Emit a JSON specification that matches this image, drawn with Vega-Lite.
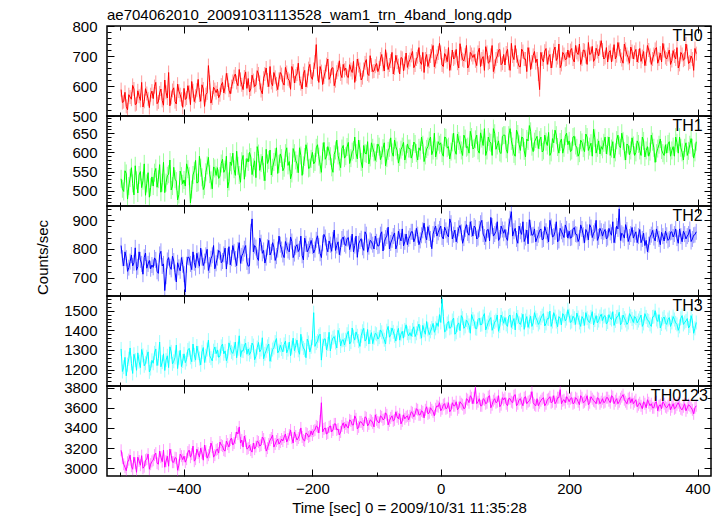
{
"$schema": "https://vega.github.io/schema/vega-lite/v6.json",
"padding": {"left": 35, "top": 8, "right": 5, "bottom": 2},
"title": {"text": "ae704062010_20091031113528_wam1_trn_4band_long.qdp", "anchor": "start", "frame": "group", "font": "Liberation Sans", "fontSize": 15, "fontWeight": "normal", "color": "#000", "offset": -5},
"data": {"values": [
{"t":-498,"a":588,"b":531,"c":812,"d":1305,"e":3178},{"t":-494,"a":548,"b":498,"c":741,"d":1212,"e":3040},{"t":-490,"a":532,"b":545,"c":768,"d":1168,"e":2975},{"t":-486,"a":571,"b":512,"c":735,"d":1255,"e":3085},{"t":-482,"a":556,"b":560,"c":779,"d":1231,"e":3020},{"t":-478,"a":590,"b":489,"c":752,"d":1278,"e":3110},{"t":-474,"a":541,"b":527,"c":726,"d":1196,"e":2960},{"t":-470,"a":566,"b":541,"c":790,"d":1240,"e":3072},{"t":-466,"a":612,"b":508,"c":748,"d":1302,"e":3125},{"t":-462,"a":549,"b":570,"c":771,"d":1219,"e":3015},{"t":-458,"a":575,"b":519,"c":733,"d":1265,"e":3090},{"t":-454,"a":528,"b":483,"c":760,"d":1188,"e":2990},{"t":-450,"a":583,"b":536,"c":744,"d":1247,"e":3068},
{"t":-446,"a":598,"b":547,"c":769,"d":1285,"e":3130},{"t":-442,"a":541,"b":509,"c":722,"d":1220,"e":3050},{"t":-438,"a":577,"b":568,"c":781,"d":1340,"e":3170},{"t":-434,"a":552,"b":521,"c":741,"d":1238,"e":3065},{"t":-430,"a":620,"b":495,"c":655,"d":1195,"e":3010},{"t":-426,"a":560,"b":539,"c":760,"d":1270,"e":3120},{"t":-422,"a":534,"b":580,"c":738,"d":1316,"e":3190},{"t":-418,"a":585,"b":512,"c":775,"d":1229,"e":3060},{"t":-414,"a":548,"b":530,"c":718,"d":1262,"e":3105},{"t":-410,"a":606,"b":476,"c":752,"d":1205,"e":2980},{"t":-406,"a":571,"b":551,"c":724,"d":1298,"e":3140},{"t":-402,"a":529,"b":518,"c":745,"d":1244,"e":3085},
{"t":-398,"a":555,"b":512,"c":650,"d":1235,"e":3060},{"t":-394,"a":601,"b":556,"c":772,"d":1300,"e":3160},{"t":-390,"a":538,"b":468,"c":748,"d":1262,"e":3110},{"t":-386,"a":584,"b":541,"c":790,"d":1330,"e":3220},{"t":-382,"a":566,"b":579,"c":735,"d":1248,"e":3090},{"t":-378,"a":622,"b":522,"c":761,"d":1285,"e":3150},{"t":-374,"a":549,"b":560,"c":803,"d":1224,"e":3200},{"t":-370,"a":590,"b":503,"c":742,"d":1312,"e":3080},{"t":-366,"a":571,"b":548,"c":778,"d":1270,"e":3170},{"t":-362,"a":668,"b":587,"c":725,"d":1350,"e":3130},{"t":-358,"a":543,"b":527,"c":766,"d":1258,"e":3250},{"t":-354,"a":596,"b":562,"c":812,"d":1296,"e":3110},{"t":-350,"a":578,"b":540,"c":750,"d":1281,"e":3180},
{"t":-346,"a":561,"b":532,"c":795,"d":1262,"e":3150},{"t":-342,"a":603,"b":571,"c":752,"d":1318,"e":3230},{"t":-338,"a":577,"b":548,"c":781,"d":1280,"e":3180},{"t":-334,"a":642,"b":590,"c":730,"d":1245,"e":3270},{"t":-330,"a":586,"b":524,"c":808,"d":1336,"e":3210},{"t":-326,"a":598,"b":566,"c":768,"d":1290,"e":3300},{"t":-322,"a":631,"b":556,"c":790,"d":1305,"e":3250},{"t":-318,"a":612,"b":603,"c":742,"d":1260,"e":3360},{"t":-314,"a":655,"b":541,"c":822,"d":1372,"e":3410},{"t":-310,"a":604,"b":577,"c":776,"d":1296,"e":3280},{"t":-306,"a":630,"b":530,"c":801,"d":1321,"e":3320},{"t":-302,"a":592,"b":584,"c":755,"d":1278,"e":3190},
{"t":-298,"a":580,"b":600,"c":742,"d":1276,"e":3230},{"t":-294,"a":636,"b":542,"c":905,"d":1335,"e":3160},{"t":-290,"a":598,"b":578,"c":812,"d":1250,"e":3190},{"t":-286,"a":651,"b":615,"c":770,"d":1312,"e":3270},{"t":-282,"a":612,"b":553,"c":838,"d":1290,"e":3220},{"t":-278,"a":574,"b":590,"c":785,"d":1362,"e":3310},{"t":-274,"a":640,"b":526,"c":751,"d":1280,"e":3250},{"t":-270,"a":620,"b":571,"c":806,"d":1318,"e":3200},{"t":-266,"a":665,"b":606,"c":779,"d":1242,"e":3280},{"t":-262,"a":601,"b":560,"c":822,"d":1302,"e":3330},{"t":-258,"a":629,"b":588,"c":760,"d":1340,"e":3240},{"t":-254,"a":588,"b":545,"c":798,"d":1285,"e":3290},{"t":-250,"a":645,"b":596,"c":815,"d":1324,"e":3260},
{"t":-246,"a":611,"b":552,"c":781,"d":1290,"e":3270},{"t":-242,"a":662,"b":598,"c":826,"d":1345,"e":3340},{"t":-238,"a":624,"b":566,"c":795,"d":1302,"e":3290},{"t":-234,"a":589,"b":531,"c":842,"d":1270,"e":3380},{"t":-230,"a":650,"b":610,"c":770,"d":1360,"e":3250},{"t":-226,"a":633,"b":579,"c":808,"d":1322,"e":3320},{"t":-222,"a":676,"b":547,"c":791,"d":1298,"e":3300},{"t":-218,"a":608,"b":592,"c":845,"d":1380,"e":3400},{"t":-214,"a":641,"b":566,"c":762,"d":1310,"e":3280},{"t":-210,"a":597,"b":620,"c":818,"d":1260,"e":3350},{"t":-206,"a":658,"b":558,"c":799,"d":1338,"e":3310},{"t":-202,"a":630,"b":583,"c":830,"d":1316,"e":3370},
{"t":-198,"a":655,"b":570,"c":786,"d":1490,"e":3370},{"t":-194,"a":738,"b":612,"c":832,"d":1335,"e":3420},{"t":-190,"a":612,"b":589,"c":810,"d":1372,"e":3350},{"t":-186,"a":648,"b":548,"c":770,"d":1248,"e":3650},{"t":-182,"a":630,"b":626,"c":851,"d":1355,"e":3390},{"t":-178,"a":671,"b":590,"c":805,"d":1300,"e":3340},{"t":-174,"a":622,"b":603,"c":828,"d":1390,"e":3410},{"t":-170,"a":659,"b":561,"c":792,"d":1342,"e":3360},{"t":-166,"a":601,"b":595,"c":866,"d":1368,"e":3440},{"t":-162,"a":646,"b":632,"c":812,"d":1310,"e":3380},{"t":-158,"a":684,"b":576,"c":780,"d":1376,"e":3330},{"t":-154,"a":628,"b":610,"c":835,"d":1348,"e":3420},{"t":-150,"a":652,"b":585,"c":818,"d":1325,"e":3400},
{"t":-146,"a":632,"b":614,"c":836,"d":1380,"e":3410},{"t":-142,"a":671,"b":571,"c":798,"d":1330,"e":3480},{"t":-138,"a":645,"b":602,"c":852,"d":1412,"e":3430},{"t":-134,"a":612,"b":640,"c":812,"d":1350,"e":3520},{"t":-130,"a":690,"b":583,"c":771,"d":1372,"e":3390},{"t":-126,"a":655,"b":609,"c":828,"d":1318,"e":3460},{"t":-122,"a":628,"b":560,"c":806,"d":1395,"e":3440},{"t":-118,"a":677,"b":598,"c":860,"d":1345,"e":3510},{"t":-114,"a":640,"b":628,"c":789,"d":1404,"e":3420},{"t":-110,"a":701,"b":587,"c":830,"d":1366,"e":3480},{"t":-106,"a":648,"b":612,"c":815,"d":1332,"e":3450},{"t":-102,"a":666,"b":579,"c":845,"d":1385,"e":3530},
{"t":-98,"a":648,"b":622,"c":810,"d":1355,"e":3460},{"t":-94,"a":690,"b":581,"c":850,"d":1402,"e":3520},{"t":-90,"a":672,"b":611,"c":793,"d":1368,"e":3480},{"t":-86,"a":721,"b":565,"c":838,"d":1330,"e":3550},{"t":-82,"a":655,"b":604,"c":876,"d":1420,"e":3430},{"t":-78,"a":683,"b":638,"c":821,"d":1378,"e":3500},{"t":-74,"a":640,"b":590,"c":845,"d":1392,"e":3470},{"t":-70,"a":702,"b":615,"c":800,"d":1345,"e":3560},{"t":-66,"a":668,"b":572,"c":862,"d":1410,"e":3490},{"t":-62,"a":695,"b":607,"c":828,"d":1380,"e":3440},{"t":-58,"a":651,"b":626,"c":811,"d":1360,"e":3530},{"t":-54,"a":710,"b":595,"c":852,"d":1428,"e":3510},{"t":-50,"a":679,"b":610,"c":836,"d":1372,"e":3480},
{"t":-46,"a":702,"b":585,"c":860,"d":1370,"e":3560},{"t":-42,"a":661,"b":627,"c":825,"d":1418,"e":3510},{"t":-38,"a":690,"b":598,"c":872,"d":1385,"e":3590},{"t":-34,"a":728,"b":612,"c":815,"d":1432,"e":3530},{"t":-30,"a":672,"b":640,"c":848,"d":1360,"e":3570},{"t":-26,"a":645,"b":576,"c":890,"d":1400,"e":3500},{"t":-22,"a":705,"b":609,"c":832,"d":1445,"e":3610},{"t":-18,"a":683,"b":631,"c":856,"d":1378,"e":3550},{"t":-14,"a":716,"b":594,"c":801,"d":1412,"e":3580},{"t":-10,"a":664,"b":650,"c":868,"d":1390,"e":3520},{"t":-6,"a":698,"b":605,"c":845,"d":1438,"e":3620},{"t":-2,"a":742,"b":620,"c":870,"d":1480,"e":3650},
{"t":2,"a":670,"b":598,"c":842,"d":1560,"e":3590},{"t":6,"a":708,"b":640,"c":876,"d":1392,"e":3640},{"t":10,"a":681,"b":611,"c":850,"d":1435,"e":3600},{"t":14,"a":652,"b":583,"c":905,"d":1410,"e":3560},{"t":18,"a":720,"b":626,"c":835,"d":1450,"e":3650},{"t":22,"a":695,"b":605,"c":866,"d":1380,"e":3620},{"t":26,"a":676,"b":648,"c":848,"d":1428,"e":3580},{"t":30,"a":741,"b":620,"c":882,"d":1398,"e":3660},{"t":34,"a":688,"b":592,"c":820,"d":1462,"e":3630},{"t":38,"a":703,"b":636,"c":870,"d":1420,"e":3600},{"t":42,"a":660,"b":615,"c":856,"d":1440,"e":3680},{"t":46,"a":712,"b":655,"c":895,"d":1385,"e":3720},{"t":50,"a":695,"b":609,"c":845,"d":1458,"e":3640},
{"t":54,"a":684,"b":634,"c":874,"d":1410,"e":3800},{"t":58,"a":712,"b":605,"c":840,"d":1455,"e":3660},{"t":62,"a":665,"b":651,"c":890,"d":1428,"e":3620},{"t":66,"a":698,"b":618,"c":852,"d":1470,"e":3690},{"t":70,"a":731,"b":592,"c":826,"d":1402,"e":3640},{"t":74,"a":676,"b":640,"c":868,"d":1440,"e":3710},{"t":78,"a":702,"b":625,"c":910,"d":1465,"e":3600},{"t":82,"a":648,"b":662,"c":845,"d":1418,"e":3670},{"t":86,"a":690,"b":608,"c":862,"d":1450,"e":3650},{"t":90,"a":719,"b":630,"c":830,"d":1395,"e":3720},{"t":94,"a":671,"b":597,"c":880,"d":1478,"e":3630},{"t":98,"a":705,"b":645,"c":855,"d":1436,"e":3680},
{"t":102,"a":710,"b":608,"c":840,"d":1430,"e":3640},{"t":106,"a":676,"b":645,"c":878,"d":1472,"e":3690},{"t":110,"a":742,"b":630,"c":930,"d":1415,"e":3660},{"t":114,"a":688,"b":596,"c":862,"d":1460,"e":3720},{"t":118,"a":701,"b":658,"c":835,"d":1488,"e":3620},{"t":122,"a":665,"b":621,"c":880,"d":1438,"e":3680},{"t":126,"a":723,"b":640,"c":851,"d":1452,"e":3650},{"t":130,"a":690,"b":604,"c":826,"d":1405,"e":3700},{"t":134,"a":648,"b":635,"c":866,"d":1470,"e":3640},{"t":138,"a":705,"b":670,"c":902,"d":1444,"e":3670},{"t":142,"a":680,"b":615,"c":848,"d":1420,"e":3760},{"t":146,"a":715,"b":628,"c":870,"d":1490,"e":3630},{"t":150,"a":690,"b":642,"c":838,"d":1452,"e":3690},
{"t":154,"a":588,"b":632,"c":865,"d":1440,"e":3650},{"t":158,"a":690,"b":601,"c":832,"d":1475,"e":3690},{"t":162,"a":716,"b":645,"c":878,"d":1422,"e":3620},{"t":166,"a":672,"b":618,"c":848,"d":1460,"e":3680},{"t":170,"a":705,"b":592,"c":900,"d":1498,"e":3710},{"t":174,"a":684,"b":636,"c":842,"d":1445,"e":3660},{"t":178,"a":730,"b":658,"c":860,"d":1470,"e":3640},{"t":182,"a":695,"b":614,"c":825,"d":1418,"e":3700},{"t":186,"a":661,"b":627,"c":872,"d":1462,"e":3780},{"t":190,"a":712,"b":598,"c":851,"d":1485,"e":3670},{"t":194,"a":688,"b":642,"c":884,"d":1448,"e":3650},{"t":198,"a":720,"b":620,"c":838,"d":1505,"e":3690},
{"t":202,"a":718,"b":602,"c":838,"d":1440,"e":3690},{"t":206,"a":690,"b":640,"c":870,"d":1472,"e":3640},{"t":210,"a":735,"b":618,"c":852,"d":1430,"e":3700},{"t":214,"a":705,"b":590,"c":826,"d":1465,"e":3660},{"t":218,"a":672,"b":632,"c":884,"d":1420,"e":3720},{"t":222,"a":720,"b":611,"c":848,"d":1458,"e":3650},{"t":226,"a":698,"b":648,"c":868,"d":1490,"e":3680},{"t":230,"a":745,"b":605,"c":832,"d":1445,"e":3630},{"t":234,"a":708,"b":624,"c":875,"d":1468,"e":3710},{"t":238,"a":682,"b":660,"c":855,"d":1428,"e":3670},{"t":242,"a":726,"b":598,"c":900,"d":1475,"e":3640},{"t":246,"a":700,"b":630,"c":842,"d":1450,"e":3690},{"t":250,"a":751,"b":615,"c":862,"d":1482,"e":3660},
{"t":254,"a":690,"b":625,"c":860,"d":1470,"e":3650},{"t":258,"a":728,"b":596,"c":835,"d":1432,"e":3700},{"t":262,"a":712,"b":640,"c":872,"d":1480,"e":3670},{"t":266,"a":680,"b":610,"c":848,"d":1455,"e":3720},{"t":270,"a":738,"b":585,"c":822,"d":1425,"e":3640},{"t":274,"a":701,"b":632,"c":880,"d":1468,"e":3690},{"t":278,"a":722,"b":618,"c":940,"d":1492,"e":3660},{"t":282,"a":688,"b":650,"c":855,"d":1440,"e":3710},{"t":286,"a":740,"b":603,"c":838,"d":1462,"e":3680},{"t":290,"a":705,"b":622,"c":866,"d":1430,"e":3640},{"t":294,"a":676,"b":594,"c":842,"d":1485,"e":3700},{"t":298,"a":715,"b":638,"c":875,"d":1458,"e":3690},
{"t":302,"a":712,"b":592,"c":850,"d":1470,"e":3660},{"t":306,"a":680,"b":630,"c":822,"d":1438,"e":3610},{"t":310,"a":725,"b":605,"c":868,"d":1462,"e":3650},{"t":314,"a":698,"b":640,"c":835,"d":1420,"e":3590},{"t":318,"a":668,"b":588,"c":812,"d":1485,"e":3640},{"t":322,"a":735,"b":615,"c":790,"d":1452,"e":3680},{"t":326,"a":702,"b":602,"c":842,"d":1430,"e":3620},{"t":330,"a":690,"b":628,"c":865,"d":1468,"e":3600},{"t":334,"a":722,"b":574,"c":828,"d":1500,"e":3650},{"t":338,"a":676,"b":610,"c":852,"d":1445,"e":3570},{"t":342,"a":710,"b":635,"c":815,"d":1412,"e":3630},{"t":346,"a":742,"b":598,"c":845,"d":1460,"e":3660},{"t":350,"a":695,"b":620,"c":862,"d":1440,"e":3610},
{"t":354,"a":705,"b":622,"c":830,"d":1455,"e":3620},{"t":358,"a":672,"b":590,"c":858,"d":1420,"e":3580},{"t":362,"a":718,"b":615,"c":842,"d":1470,"e":3640},{"t":366,"a":690,"b":640,"c":870,"d":1438,"e":3600},{"t":370,"a":660,"b":598,"c":820,"d":1400,"e":3650},{"t":374,"a":712,"b":612,"c":845,"d":1462,"e":3590},{"t":378,"a":686,"b":580,"c":862,"d":1430,"e":3610},{"t":382,"a":740,"b":625,"c":835,"d":1448,"e":3570},{"t":386,"a":675,"b":604,"c":852,"d":1412,"e":3630},{"t":390,"a":700,"b":636,"c":826,"d":1475,"e":3600},{"t":394,"a":652,"b":585,"c":848,"d":1385,"e":3540},{"t":398,"a":708,"b":628,"c":860,"d":1440,"e":3620},
{"t":-496,"a":545,"b":505,"c":768,"d":1190,"e":3100},{"t":-492,"a":579,"b":552,"c":790,"d":1262,"e":3010},{"t":-488,"a":521,"b":478,"c":722,"d":1225,"e":3060},{"t":-484,"a":563,"b":533,"c":756,"d":1310,"e":3130},{"t":-480,"a":602,"b":519,"c":741,"d":1180,"e":2990},{"t":-476,"a":538,"b":565,"c":804,"d":1248,"e":3050},{"t":-472,"a":584,"b":494,"c":738,"d":1285,"e":3110},{"t":-468,"a":552,"b":550,"c":762,"d":1210,"e":3030},{"t":-464,"a":530,"b":526,"c":712,"d":1272,"e":3000},{"t":-460,"a":591,"b":488,"c":786,"d":1232,"e":3080},{"t":-456,"a":557,"b":547,"c":748,"d":1290,"e":3140},{"t":-452,"a":571,"b":509,"c":731,"d":1205,"e":3040},
{"t":-448,"a":558,"b":512,"c":736,"d":1232,"e":3080},{"t":-444,"a":612,"b":558,"c":762,"d":1305,"e":3150},{"t":-440,"a":547,"b":530,"c":715,"d":1256,"e":3040},{"t":-436,"a":590,"b":496,"c":792,"d":1214,"e":3110},{"t":-432,"a":536,"b":574,"c":748,"d":1280,"e":3180},{"t":-428,"a":579,"b":521,"c":705,"d":1248,"e":3070},{"t":-424,"a":645,"b":543,"c":770,"d":1210,"e":3020},{"t":-420,"a":562,"b":502,"c":729,"d":1290,"e":3130},{"t":-416,"a":594,"b":561,"c":758,"d":1242,"e":3060},{"t":-412,"a":540,"b":525,"c":685,"d":1325,"e":3100},{"t":-408,"a":583,"b":490,"c":736,"d":1260,"e":3030},{"t":-404,"a":556,"b":538,"c":770,"d":1215,"e":3120},
{"t":-400,"a":592,"b":528,"c":712,"d":1280,"e":3120},{"t":-396,"a":560,"b":570,"c":745,"d":1252,"e":3090},{"t":-392,"a":579,"b":538,"c":770,"d":1308,"e":3180},{"t":-388,"a":615,"b":503,"c":728,"d":1240,"e":3140},{"t":-384,"a":548,"b":552,"c":752,"d":1275,"e":3070},{"t":-380,"a":586,"b":520,"c":785,"d":1320,"e":3190},{"t":-376,"a":570,"b":590,"c":740,"d":1256,"e":3110},{"t":-372,"a":604,"b":535,"c":770,"d":1290,"e":3150},{"t":-368,"a":532,"b":512,"c":756,"d":1236,"e":3230},{"t":-364,"a":577,"b":566,"c":799,"d":1302,"e":3100},{"t":-360,"a":612,"b":543,"c":744,"d":1270,"e":3160},{"t":-356,"a":560,"b":505,"c":778,"d":1244,"e":3210},{"t":-352,"a":588,"b":558,"c":731,"d":1315,"e":3130},
{"t":-348,"a":590,"b":560,"c":770,"d":1300,"e":3190},{"t":-344,"a":571,"b":538,"c":790,"d":1270,"e":3260},{"t":-340,"a":612,"b":582,"c":758,"d":1330,"e":3220},{"t":-336,"a":596,"b":555,"c":803,"d":1295,"e":3170},{"t":-332,"a":620,"b":507,"c":775,"d":1268,"e":3240},{"t":-328,"a":574,"b":575,"c":745,"d":1312,"e":3280},{"t":-324,"a":615,"b":598,"c":812,"d":1282,"e":3230},{"t":-320,"a":640,"b":540,"c":765,"d":1340,"e":3300},{"t":-316,"a":601,"b":565,"c":796,"d":1306,"e":3340},{"t":-312,"a":622,"b":522,"c":750,"d":1266,"e":3250},{"t":-308,"a":588,"b":592,"c":785,"d":1294,"e":3210},{"t":-304,"a":647,"b":560,"c":812,"d":1335,"e":3270},
{"t":-300,"a":625,"b":575,"c":740,"d":1305,"e":3200},{"t":-296,"a":590,"b":588,"c":860,"d":1290,"e":3180},{"t":-292,"a":618,"b":561,"c":790,"d":1322,"e":3250},{"t":-288,"a":603,"b":534,"c":805,"d":1268,"e":3215},{"t":-284,"a":640,"b":597,"c":760,"d":1338,"e":3260},{"t":-280,"a":585,"b":572,"c":822,"d":1302,"e":3230},{"t":-276,"a":626,"b":549,"c":795,"d":1255,"e":3290},{"t":-272,"a":660,"b":608,"c":770,"d":1296,"e":3170},{"t":-268,"a":598,"b":580,"c":830,"d":1330,"e":3240},{"t":-264,"a":612,"b":541,"c":790,"d":1275,"e":3300},{"t":-260,"a":645,"b":575,"c":806,"d":1312,"e":3210},{"t":-256,"a":607,"b":612,"c":775,"d":1358,"e":3270},{"t":-252,"a":622,"b":570,"c":845,"d":1296,"e":3240},
{"t":-248,"a":638,"b":585,"c":798,"d":1305,"e":3290},{"t":-244,"a":603,"b":560,"c":770,"d":1328,"e":3310},{"t":-240,"a":645,"b":612,"c":812,"d":1285,"e":3260},{"t":-236,"a":618,"b":576,"c":790,"d":1340,"e":3330},{"t":-232,"a":665,"b":545,"c":826,"d":1312,"e":3300},{"t":-228,"a":610,"b":598,"c":784,"d":1296,"e":3360},{"t":-224,"a":640,"b":570,"c":815,"d":1350,"e":3280},{"t":-220,"a":625,"b":612,"c":800,"d":1278,"e":3330},{"t":-216,"a":590,"b":540,"c":778,"d":1332,"e":3310},{"t":-212,"a":652,"b":588,"c":838,"d":1300,"e":3270},{"t":-208,"a":618,"b":602,"c":790,"d":1355,"e":3340},{"t":-204,"a":672,"b":560,"c":812,"d":1290,"e":3320},
{"t":-200,"a":622,"b":600,"c":810,"d":1360,"e":3330},{"t":-196,"a":680,"b":575,"c":798,"d":1318,"e":3380},{"t":-192,"a":640,"b":620,"c":846,"d":1345,"e":3410},{"t":-188,"a":665,"b":568,"c":785,"d":1380,"e":3470},{"t":-184,"a":605,"b":602,"c":820,"d":1322,"e":3360},{"t":-180,"a":648,"b":582,"c":840,"d":1356,"e":3400},{"t":-176,"a":690,"b":615,"c":790,"d":1330,"e":3350},{"t":-172,"a":632,"b":590,"c":815,"d":1295,"e":3420},{"t":-168,"a":661,"b":548,"c":832,"d":1362,"e":3380},{"t":-164,"a":618,"b":605,"c":795,"d":1338,"e":3440},{"t":-160,"a":655,"b":592,"c":825,"d":1400,"e":3390},{"t":-156,"a":640,"b":560,"c":805,"d":1320,"e":3360},{"t":-152,"a":672,"b":618,"c":842,"d":1352,"e":3450},
{"t":-148,"a":660,"b":590,"c":812,"d":1352,"e":3440},{"t":-144,"a":628,"b":626,"c":840,"d":1395,"e":3400},{"t":-140,"a":655,"b":585,"c":818,"d":1340,"e":3470},{"t":-136,"a":682,"b":606,"c":790,"d":1368,"e":3430},{"t":-132,"a":640,"b":598,"c":845,"d":1392,"e":3490},{"t":-128,"a":668,"b":632,"c":818,"d":1345,"e":3410},{"t":-124,"a":620,"b":575,"c":836,"d":1372,"e":3460},{"t":-120,"a":655,"b":618,"c":795,"d":1410,"e":3420},{"t":-116,"a":688,"b":596,"c":850,"d":1355,"e":3500},{"t":-112,"a":635,"b":570,"c":808,"d":1330,"e":3440},{"t":-108,"a":670,"b":625,"c":826,"d":1388,"e":3470},{"t":-104,"a":650,"b":600,"c":800,"d":1362,"e":3410},
{"t":-100,"a":675,"b":598,"c":825,"d":1380,"e":3480},{"t":-96,"a":660,"b":615,"c":812,"d":1365,"e":3450},{"t":-92,"a":705,"b":592,"c":860,"d":1390,"e":3510},{"t":-88,"a":650,"b":625,"c":825,"d":1352,"e":3490},{"t":-84,"a":688,"b":585,"c":845,"d":1398,"e":3530},{"t":-80,"a":670,"b":612,"c":800,"d":1365,"e":3470},{"t":-76,"a":712,"b":600,"c":832,"d":1412,"e":3520},{"t":-72,"a":660,"b":632,"c":856,"d":1372,"e":3480},{"t":-68,"a":680,"b":605,"c":815,"d":1388,"e":3510},{"t":-64,"a":640,"b":588,"c":842,"d":1350,"e":3540},{"t":-60,"a":692,"b":615,"c":870,"d":1395,"e":3470},{"t":-56,"a":675,"b":580,"c":825,"d":1402,"e":3490},{"t":-52,"a":662,"b":622,"c":815,"d":1385,"e":3520},
{"t":-48,"a":688,"b":610,"c":845,"d":1388,"e":3520},{"t":-44,"a":715,"b":596,"c":860,"d":1402,"e":3550},{"t":-40,"a":670,"b":622,"c":838,"d":1368,"e":3540},{"t":-36,"a":698,"b":580,"c":850,"d":1410,"e":3580},{"t":-32,"a":680,"b":605,"c":830,"d":1392,"e":3530},{"t":-28,"a":712,"b":620,"c":865,"d":1425,"e":3560},{"t":-24,"a":690,"b":592,"c":848,"d":1380,"e":3580},{"t":-20,"a":665,"b":615,"c":878,"d":1405,"e":3540},{"t":-16,"a":700,"b":640,"c":835,"d":1395,"e":3600},{"t":-12,"a":735,"b":605,"c":852,"d":1435,"e":3560},{"t":-8,"a":682,"b":588,"c":880,"d":1410,"e":3590},{"t":-4,"a":710,"b":628,"c":858,"d":1420,"e":3610},
{"t":0,"a":712,"b":625,"c":880,"d":1440,"e":3570},{"t":4,"a":665,"b":590,"c":835,"d":1470,"e":3630},{"t":8,"a":700,"b":638,"c":865,"d":1398,"e":3590},{"t":12,"a":728,"b":615,"c":842,"d":1445,"e":3650},{"t":16,"a":675,"b":602,"c":890,"d":1415,"e":3580},{"t":20,"a":690,"b":650,"c":850,"d":1462,"e":3620},{"t":24,"a":722,"b":595,"c":825,"d":1390,"e":3660},{"t":28,"a":660,"b":630,"c":872,"d":1438,"e":3600},{"t":32,"a":708,"b":605,"c":858,"d":1475,"e":3640},{"t":36,"a":684,"b":645,"c":838,"d":1410,"e":3590},{"t":40,"a":735,"b":612,"c":885,"d":1452,"e":3690},{"t":44,"a":670,"b":598,"c":848,"d":1425,"e":3650},{"t":48,"a":705,"b":640,"c":870,"d":1480,"e":3700},
{"t":52,"a":705,"b":612,"c":880,"d":1445,"e":3700},{"t":56,"a":668,"b":645,"c":835,"d":1408,"e":3640},{"t":60,"a":726,"b":598,"c":870,"d":1462,"e":3690},{"t":64,"a":690,"b":636,"c":900,"d":1430,"e":3620},{"t":68,"a":652,"b":662,"c":842,"d":1485,"e":3680},{"t":72,"a":712,"b":605,"c":866,"d":1420,"e":3650},{"t":76,"a":680,"b":628,"c":828,"d":1455,"e":3720},{"t":80,"a":735,"b":592,"c":880,"d":1400,"e":3630},{"t":84,"a":665,"b":650,"c":852,"d":1442,"e":3690},{"t":88,"a":700,"b":618,"c":895,"d":1478,"e":3660},{"t":92,"a":722,"b":600,"c":838,"d":1422,"e":3610},{"t":96,"a":676,"b":642,"c":868,"d":1460,"e":3700},
{"t":100,"a":670,"b":645,"c":868,"d":1465,"e":3700},{"t":104,"a":722,"b":598,"c":830,"d":1420,"e":3620},{"t":108,"a":652,"b":662,"c":905,"d":1478,"e":3690},{"t":112,"a":700,"b":615,"c":845,"d":1442,"e":3650},{"t":116,"a":735,"b":590,"c":872,"d":1402,"e":3730},{"t":120,"a":680,"b":648,"c":820,"d":1468,"e":3640},{"t":124,"a":664,"b":605,"c":862,"d":1430,"e":3690},{"t":128,"a":715,"b":638,"c":895,"d":1482,"e":3620},{"t":132,"a":690,"b":588,"c":840,"d":1450,"e":3710},{"t":136,"a":728,"b":630,"c":818,"d":1415,"e":3660},{"t":140,"a":655,"b":655,"c":874,"d":1472,"e":3700},{"t":144,"a":702,"b":602,"c":850,"d":1438,"e":3650},{"t":148,"a":678,"b":635,"c":825,"d":1465,"e":3620},
{"t":152,"a":640,"b":610,"c":850,"d":1430,"e":3620},{"t":156,"a":712,"b":640,"c":870,"d":1462,"e":3670},{"t":160,"a":680,"b":605,"c":835,"d":1485,"e":3700},{"t":164,"a":725,"b":628,"c":862,"d":1435,"e":3640},{"t":168,"a":695,"b":652,"c":825,"d":1458,"e":3690},{"t":172,"a":660,"b":600,"c":878,"d":1420,"e":3650},{"t":176,"a":718,"b":625,"c":845,"d":1490,"e":3720},{"t":180,"a":685,"b":645,"c":895,"d":1445,"e":3660},{"t":184,"a":740,"b":598,"c":830,"d":1470,"e":3700},{"t":188,"a":672,"b":635,"c":862,"d":1428,"e":3640},{"t":192,"a":705,"b":612,"c":840,"d":1475,"e":3680},{"t":196,"a":690,"b":650,"c":870,"d":1460,"e":3710},
{"t":200,"a":695,"b":630,"c":862,"d":1475,"e":3660},{"t":204,"a":725,"b":605,"c":840,"d":1445,"e":3700},{"t":208,"a":680,"b":642,"c":875,"d":1462,"e":3650},{"t":212,"a":712,"b":612,"c":850,"d":1488,"e":3690},{"t":216,"a":740,"b":598,"c":838,"d":1440,"e":3630},{"t":220,"a":690,"b":626,"c":870,"d":1470,"e":3700},{"t":224,"a":718,"b":602,"c":822,"d":1425,"e":3660},{"t":228,"a":672,"b":640,"c":858,"d":1462,"e":3720},{"t":232,"a":705,"b":615,"c":885,"d":1440,"e":3650},{"t":236,"a":732,"b":590,"c":840,"d":1495,"e":3690},{"t":240,"a":690,"b":638,"c":862,"d":1452,"e":3660},{"t":244,"a":715,"b":612,"c":830,"d":1438,"e":3700},{"t":248,"a":728,"b":596,"c":872,"d":1470,"e":3640},
{"t":252,"a":720,"b":608,"c":845,"d":1450,"e":3690},{"t":256,"a":695,"b":640,"c":868,"d":1475,"e":3660},{"t":260,"a":680,"b":618,"c":840,"d":1442,"e":3700},{"t":264,"a":718,"b":592,"c":858,"d":1462,"e":3650},{"t":268,"a":705,"b":628,"c":895,"d":1495,"e":3710},{"t":272,"a":690,"b":600,"c":848,"d":1448,"e":3670},{"t":276,"a":745,"b":645,"c":870,"d":1470,"e":3640},{"t":280,"a":700,"b":612,"c":830,"d":1428,"e":3690},{"t":284,"a":676,"b":630,"c":850,"d":1478,"e":3730},{"t":288,"a":722,"b":580,"c":885,"d":1450,"e":3660},{"t":292,"a":695,"b":618,"c":826,"d":1440,"e":3690},{"t":296,"a":730,"b":605,"c":852,"d":1472,"e":3650},
{"t":300,"a":690,"b":618,"c":838,"d":1440,"e":3640},{"t":304,"a":722,"b":600,"c":860,"d":1462,"e":3680},{"t":308,"a":700,"b":622,"c":845,"d":1450,"e":3630},{"t":312,"a":682,"b":592,"c":822,"d":1478,"e":3620},{"t":316,"a":715,"b":630,"c":855,"d":1435,"e":3660},{"t":320,"a":690,"b":605,"c":830,"d":1468,"e":3600},{"t":324,"a":720,"b":590,"c":815,"d":1448,"e":3650},{"t":328,"a":672,"b":645,"c":850,"d":1420,"e":3640},{"t":332,"a":705,"b":612,"c":840,"d":1470,"e":3600},{"t":336,"a":728,"b":598,"c":870,"d":1455,"e":3660},{"t":340,"a":690,"b":620,"c":835,"d":1480,"e":3620},{"t":344,"a":680,"b":606,"c":858,"d":1432,"e":3590},{"t":348,"a":718,"b":592,"c":828,"d":1468,"e":3640},
{"t":352,"a":690,"b":598,"c":848,"d":1430,"e":3600},{"t":356,"a":720,"b":628,"c":835,"d":1465,"e":3640},{"t":360,"a":685,"b":605,"c":860,"d":1440,"e":3610},{"t":364,"a":700,"b":590,"c":852,"d":1455,"e":3590},{"t":368,"a":728,"b":625,"c":838,"d":1430,"e":3630},{"t":372,"a":672,"b":640,"c":870,"d":1420,"e":3620},{"t":376,"a":705,"b":600,"c":825,"d":1475,"e":3580},{"t":380,"a":690,"b":612,"c":852,"d":1440,"e":3640},{"t":384,"a":715,"b":592,"c":845,"d":1460,"e":3600},{"t":388,"a":680,"b":620,"c":868,"d":1422,"e":3620},{"t":392,"a":690,"b":612,"c":835,"d":1448,"e":3580},{"t":396,"a":725,"b":600,"c":850,"d":1410,"e":3600}
]},
"spacing": 0,
"bounds": "flush",
"vconcat": [
{"width": 604, "height": 90,
 "layer": [
  {"mark": {"type": "rule", "color": "#ff0000", "opacity": 0.4, "strokeWidth": 1, "yOffset": -7, "y2Offset": 7, "clip": true},
   "encoding": {"x": {"field": "t", "type": "quantitative", "axis": null}, "y": {"field": "a", "type": "quantitative", "axis": null}, "y2": {"field": "a"}}},
  {"mark": {"type": "line", "color": "#ff0000", "strokeWidth": 1, "clip": true},
   "encoding": {
    "x": {"field": "t", "type": "quantitative", "scale": {"domain": [-520, 421], "nice": false, "zero": false},
          "axis": {"orient": "bottom", "title": null, "labels": false, "values": [-400,-200,0,200,400], "tickSize": -7}},
    "y": {"field": "a", "type": "quantitative", "scale": {"domain": [500, 800], "nice": false, "zero": false},
          "axis": {"orient": "left", "title": null, "values": [500,600,700,800], "format": "d", "tickSize": -7, "labelPadding": 17}}
   }},
  {"data": {"values": [{"label": "TH0"}]},
   "mark": {"type": "text", "align": "right", "baseline": "middle", "dy": 10, "font": "Liberation Sans", "fontSize": 16, "color": "#000"},
   "encoding": {
    "x": {"datum": 408, "type": "quantitative", "axis": {"orient": "top", "title": null, "labels": false, "values": [-400,-200,0,200,400], "tickSize": -7}},
    "y": {"datum": 800, "type": "quantitative", "axis": {"orient": "right", "title": null, "labels": false, "values": [500,600,700,800], "tickSize": -7}},
    "text": {"field": "label"}
   }},
  {"data": {"values": []},
   "mark": {"type": "text"},
   "encoding": {
    "x": {"datum": 0, "type": "quantitative", "axis": {"orient": "bottom", "title": null, "labels": false, "values": [-500,-300,-100,100,300], "tickSize": -4}},
    "y": {"datum": 600, "type": "quantitative", "axis": {"orient": "left", "title": null, "labels": false, "values": [520,540,560,580,620,640,660,680,720,740,760,780], "tickSize": -4}},
    "text": {"value": ""}
   }},
  {"data": {"values": []},
   "mark": {"type": "text"},
   "encoding": {
    "x": {"datum": 0, "type": "quantitative", "axis": {"orient": "top", "title": null, "labels": false, "values": [-500,-300,-100,100,300], "tickSize": -4}},
    "y": {"datum": 600, "type": "quantitative", "axis": {"orient": "right", "title": null, "labels": false, "values": [520,540,560,580,620,640,660,680,720,740,760,780], "tickSize": -4}},
    "text": {"value": ""}
   }}
 ],
 "resolve": {"axis": {"x": "independent", "y": "independent"}}
},
{"width": 604, "height": 90,
 "layer": [
  {"mark": {"type": "rule", "color": "#00ff00", "opacity": 0.4, "strokeWidth": 1, "yOffset": -9, "y2Offset": 9, "clip": true},
   "encoding": {"x": {"field": "t", "type": "quantitative", "axis": null}, "y": {"field": "b", "type": "quantitative", "axis": null}, "y2": {"field": "b"}}},
  {"mark": {"type": "line", "color": "#00ff00", "strokeWidth": 1, "clip": true},
   "encoding": {
    "x": {"field": "t", "type": "quantitative", "scale": {"domain": [-520, 421], "nice": false, "zero": false},
          "axis": {"orient": "bottom", "title": null, "labels": false, "values": [-400,-200,0,200,400], "tickSize": -7}},
    "y": {"field": "b", "type": "quantitative", "scale": {"domain": [460, 695], "nice": false, "zero": false},
          "axis": {"orient": "left", "title": null, "values": [500,550,600,650], "format": "d", "tickSize": -7, "labelPadding": 17}}
   }},
  {"data": {"values": [{"label": "TH1"}]},
   "mark": {"type": "text", "align": "right", "baseline": "middle", "dy": 10, "font": "Liberation Sans", "fontSize": 16, "color": "#000"},
   "encoding": {
    "x": {"datum": 408, "type": "quantitative", "axis": {"orient": "top", "title": null, "labels": false, "values": [-400,-200,0,200,400], "tickSize": -7}},
    "y": {"datum": 695, "type": "quantitative", "axis": {"orient": "right", "title": null, "labels": false, "values": [500,550,600,650], "tickSize": -7}},
    "text": {"field": "label"}
   }},
  {"data": {"values": []},
   "mark": {"type": "text"},
   "encoding": {
    "x": {"datum": 0, "type": "quantitative", "axis": {"orient": "bottom", "title": null, "labels": false, "values": [-500,-300,-100,100,300], "tickSize": -4}},
    "y": {"datum": 600, "type": "quantitative", "axis": {"orient": "left", "title": null, "labels": false, "values": [470,480,490,510,520,530,540,560,570,580,590,610,620,630,640,660,670,680,690], "tickSize": -4}},
    "text": {"value": ""}
   }},
  {"data": {"values": []},
   "mark": {"type": "text"},
   "encoding": {
    "x": {"datum": 0, "type": "quantitative", "axis": {"orient": "top", "title": null, "labels": false, "values": [-500,-300,-100,100,300], "tickSize": -4}},
    "y": {"datum": 600, "type": "quantitative", "axis": {"orient": "right", "title": null, "labels": false, "values": [470,480,490,510,520,530,540,560,570,580,590,610,620,630,640,660,670,680,690], "tickSize": -4}},
    "text": {"value": ""}
   }}
 ],
 "resolve": {"axis": {"x": "independent", "y": "independent"}}
},
{"width": 604, "height": 90,
 "layer": [
  {"mark": {"type": "rule", "color": "#0000ff", "opacity": 0.4, "strokeWidth": 1, "yOffset": -8, "y2Offset": 8, "clip": true},
   "encoding": {"x": {"field": "t", "type": "quantitative", "axis": null}, "y": {"field": "c", "type": "quantitative", "axis": null}, "y2": {"field": "c"}}},
  {"mark": {"type": "line", "color": "#0000ff", "strokeWidth": 1, "clip": true},
   "encoding": {
    "x": {"field": "t", "type": "quantitative", "scale": {"domain": [-520, 421], "nice": false, "zero": false},
          "axis": {"orient": "bottom", "title": null, "labels": false, "values": [-400,-200,0,200,400], "tickSize": -7}},
    "y": {"field": "c", "type": "quantitative", "scale": {"domain": [636, 950], "nice": false, "zero": false},
          "axis": {"orient": "left", "title": "Counts/sec", "titlePadding": 21, "titleY": 51, "values": [700,800,900], "format": "d", "tickSize": -7, "labelPadding": 17}}
   }},
  {"data": {"values": [{"label": "TH2"}]},
   "mark": {"type": "text", "align": "right", "baseline": "middle", "dy": 10, "font": "Liberation Sans", "fontSize": 16, "color": "#000"},
   "encoding": {
    "x": {"datum": 408, "type": "quantitative", "axis": {"orient": "top", "title": null, "labels": false, "values": [-400,-200,0,200,400], "tickSize": -7}},
    "y": {"datum": 950, "type": "quantitative", "axis": {"orient": "right", "title": null, "labels": false, "values": [700,800,900], "tickSize": -7}},
    "text": {"field": "label"}
   }},
  {"data": {"values": []},
   "mark": {"type": "text"},
   "encoding": {
    "x": {"datum": 0, "type": "quantitative", "axis": {"orient": "bottom", "title": null, "labels": false, "values": [-500,-300,-100,100,300], "tickSize": -4}},
    "y": {"datum": 800, "type": "quantitative", "axis": {"orient": "left", "title": null, "labels": false, "values": [640,660,680,720,740,760,780,820,840,860,880,920,940], "tickSize": -4}},
    "text": {"value": ""}
   }},
  {"data": {"values": []},
   "mark": {"type": "text"},
   "encoding": {
    "x": {"datum": 0, "type": "quantitative", "axis": {"orient": "top", "title": null, "labels": false, "values": [-500,-300,-100,100,300], "tickSize": -4}},
    "y": {"datum": 800, "type": "quantitative", "axis": {"orient": "right", "title": null, "labels": false, "values": [640,660,680,720,740,760,780,820,840,860,880,920,940], "tickSize": -4}},
    "text": {"value": ""}
   }}
 ],
 "resolve": {"axis": {"x": "independent", "y": "independent"}}
},
{"width": 604, "height": 90,
 "layer": [
  {"mark": {"type": "rule", "color": "#00ffff", "opacity": 0.4, "strokeWidth": 1, "yOffset": -7, "y2Offset": 7, "clip": true},
   "encoding": {"x": {"field": "t", "type": "quantitative", "axis": null}, "y": {"field": "d", "type": "quantitative", "axis": null}, "y2": {"field": "d"}}},
  {"mark": {"type": "line", "color": "#00ffff", "strokeWidth": 1, "clip": true},
   "encoding": {
    "x": {"field": "t", "type": "quantitative", "scale": {"domain": [-520, 421], "nice": false, "zero": false},
          "axis": {"orient": "bottom", "title": null, "labels": false, "values": [-400,-200,0,200,400], "tickSize": -7}},
    "y": {"field": "d", "type": "quantitative", "scale": {"domain": [1116, 1575], "nice": false, "zero": false},
          "axis": {"orient": "left", "title": null, "values": [1200,1300,1400,1500], "format": "d", "tickSize": -7, "labelPadding": 17}}
   }},
  {"data": {"values": [{"label": "TH3"}]},
   "mark": {"type": "text", "align": "right", "baseline": "middle", "dy": 10, "font": "Liberation Sans", "fontSize": 16, "color": "#000"},
   "encoding": {
    "x": {"datum": 408, "type": "quantitative", "axis": {"orient": "top", "title": null, "labels": false, "values": [-400,-200,0,200,400], "tickSize": -7}},
    "y": {"datum": 1575, "type": "quantitative", "axis": {"orient": "right", "title": null, "labels": false, "values": [1200,1300,1400,1500], "tickSize": -7}},
    "text": {"field": "label"}
   }},
  {"data": {"values": []},
   "mark": {"type": "text"},
   "encoding": {
    "x": {"datum": 0, "type": "quantitative", "axis": {"orient": "bottom", "title": null, "labels": false, "values": [-500,-300,-100,100,300], "tickSize": -4}},
    "y": {"datum": 1300, "type": "quantitative", "axis": {"orient": "left", "title": null, "labels": false, "values": [1120,1140,1160,1180,1220,1240,1260,1280,1320,1340,1360,1380,1420,1440,1460,1480,1520,1540,1560], "tickSize": -4}},
    "text": {"value": ""}
   }},
  {"data": {"values": []},
   "mark": {"type": "text"},
   "encoding": {
    "x": {"datum": 0, "type": "quantitative", "axis": {"orient": "top", "title": null, "labels": false, "values": [-500,-300,-100,100,300], "tickSize": -4}},
    "y": {"datum": 1300, "type": "quantitative", "axis": {"orient": "right", "title": null, "labels": false, "values": [1120,1140,1160,1180,1220,1240,1260,1280,1320,1340,1360,1380,1420,1440,1460,1480,1520,1540,1560], "tickSize": -4}},
    "text": {"value": ""}
   }}
 ],
 "resolve": {"axis": {"x": "independent", "y": "independent"}}
},
{"width": 604, "height": 90,
 "layer": [
  {"mark": {"type": "rule", "color": "#ff00ff", "opacity": 0.4, "strokeWidth": 1, "yOffset": -6, "y2Offset": 6, "clip": true},
   "encoding": {"x": {"field": "t", "type": "quantitative", "axis": null}, "y": {"field": "e", "type": "quantitative", "axis": null}, "y2": {"field": "e"}}},
  {"mark": {"type": "line", "color": "#ff00ff", "strokeWidth": 1, "clip": true},
   "encoding": {
    "x": {"field": "t", "type": "quantitative", "scale": {"domain": [-520, 421], "nice": false, "zero": false},
          "axis": {"orient": "bottom", "title": "Time [sec] 0 = 2009/10/31 11:35:28", "titlePadding": 4, "values": [-400,-200,0,200,400], "format": "d", "tickSize": -7, "labelPadding": 12}},
    "y": {"field": "e", "type": "quantitative", "scale": {"domain": [2923, 3816], "nice": false, "zero": false},
          "axis": {"orient": "left", "title": null, "values": [3000,3200,3400,3600,3800], "format": "d", "tickSize": -7, "labelPadding": 17}}
   }},
  {"data": {"values": [{"label": "TH0123"}]},
   "mark": {"type": "text", "align": "right", "baseline": "middle", "dy": 10, "font": "Liberation Sans", "fontSize": 16, "color": "#000"},
   "encoding": {
    "x": {"datum": 416, "type": "quantitative", "axis": {"orient": "top", "title": null, "labels": false, "values": [-400,-200,0,200,400], "tickSize": -7}},
    "y": {"datum": 3816, "type": "quantitative", "axis": {"orient": "right", "title": null, "labels": false, "values": [3000,3200,3400,3600,3800], "tickSize": -7}},
    "text": {"field": "label"}
   }},
  {"data": {"values": []},
   "mark": {"type": "text"},
   "encoding": {
    "x": {"datum": 0, "type": "quantitative", "axis": {"orient": "bottom", "title": null, "labels": false, "values": [-500,-300,-100,100,300], "tickSize": -4}},
    "y": {"datum": 3400, "type": "quantitative", "axis": {"orient": "left", "title": null, "labels": false, "values": [3100,3300,3500,3700], "tickSize": -4}},
    "text": {"value": ""}
   }},
  {"data": {"values": []},
   "mark": {"type": "text"},
   "encoding": {
    "x": {"datum": 0, "type": "quantitative", "axis": {"orient": "top", "title": null, "labels": false, "values": [-500,-300,-100,100,300], "tickSize": -4}},
    "y": {"datum": 3400, "type": "quantitative", "axis": {"orient": "right", "title": null, "labels": false, "values": [3100,3300,3500,3700], "tickSize": -4}},
    "text": {"value": ""}
   }}
 ],
 "resolve": {"axis": {"x": "independent", "y": "independent"}}
}
],
"config": {
 "font": "Liberation Sans",
 "background": "#ffffff",
 "view": {"stroke": "#000000", "strokeWidth": 1.5},
 "axis": {"domain": false, "grid": false, "minExtent": 0, "labelFont": "Liberation Sans", "labelFontSize": 15, "labelColor": "#000", "tickColor": "#000", "tickWidth": 1, "titleFont": "Liberation Sans", "titleFontSize": 15, "titleFontWeight": "normal", "titleColor": "#000", "labelFlush": false, "labelOverlap": false, "labelBound": false}
}
}
